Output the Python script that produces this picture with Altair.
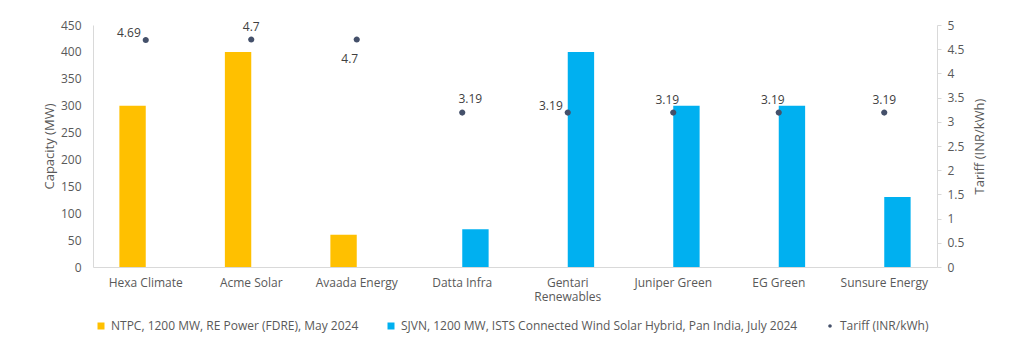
import altair as alt
import pandas as pd

companies = ["Hexa Climate", "Acme Solar", "Avaada Energy", "Datta Infra",
             "Gentari Renewables", "Juniper Green", "EG Green", "Sunsure Energy"]
ntpc_mw = [300, 400, 60, None, None, None, None, None]
sjvn_mw = [None, None, None, 70, 400, 300, 300, 130]
tariff = [4.69, 4.7, 4.7, 3.19, 3.19, 3.19, 3.19, 3.19]
label_pos = ["left", "above", "below", "above_r", "left", "above_l", "above_l", "above"]

s_ntpc = "NTPC, 1200 MW, RE Power (FDRE), May 2024"
s_sjvn = "SJVN, 1200 MW, ISTS Connected Wind Solar Hybrid, Pan India, July 2024"
s_tar = "Tariff (INR/kWh)"
series_dom = [s_ntpc, s_sjvn, s_tar]
series_col = ["#FFC000", "#00B0F0", "#44506A"]

rows = []
for c, a, b in zip(companies, ntpc_mw, sjvn_mw):
    if a is not None:
        rows.append({"company": c, "series": s_ntpc, "mw": a})
    if b is not None:
        rows.append({"company": c, "series": s_sjvn, "mw": b})
bars_df = pd.DataFrame(rows)
tar_df = pd.DataFrame({"company": companies, "tariff": tariff, "pos": label_pos,
                       "series": [s_tar] * len(companies)})

FONT = "Open Sans"
GREY = "#595959"
LINE = "#D9D9D9"

color_scale = alt.Scale(domain=series_dom, range=series_col)
x_enc = alt.X("company:N", sort=companies, title=None,
              scale=alt.Scale(paddingInner=0, paddingOuter=0),
              axis=alt.Axis(labelAngle=0, ticks=False, domainColor=LINE, labelPadding=10,
                            labelColor=GREY, labelFontSize=12, labelFont=FONT,
                            labelLineHeight=14,
                            labelExpr="datum.label == 'Gentari Renewables' ? ['Gentari', 'Renewables'] : datum.label"))

bars = alt.Chart(bars_df).mark_bar().encode(
    x=x_enc,
    xOffset=alt.XOffset("series:N", scale=alt.Scale(domain=[s_ntpc, s_sjvn], paddingInner=0, paddingOuter=1)),
    y=alt.Y("mw:Q", title="Capacity (MW)",
            scale=alt.Scale(domain=[0, 450], nice=False),
            axis=alt.Axis(values=list(range(0, 451, 50)), grid=False, ticks=False,
                          domainColor=LINE, labelColor=GREY, labelFontSize=12, labelFont=FONT,
                          labelPadding=12, titleColor=GREY, titleFontSize=13, titleFont=FONT,
                          titleFontWeight="normal", titlePadding=4)),
    color=alt.Color("series:N", scale=color_scale,
                    legend=alt.Legend(title=None, orient="none", direction="horizontal",
                                      legendX=2, legendY=295, columnPadding=26,
                                      labelFont=FONT, labelFontSize=12, labelColor=GREY,
                                      symbolSize=49, symbolStrokeWidth=0, labelLimit=500,
                                      labelOffset=4)),
)

tar_axis = alt.Axis(orient="right", values=[i / 2 for i in range(11)], format=".1~f",
                    grid=False, ticks=True, tickSize=4, tickColor=LINE, domainColor=LINE,
                    labelColor=GREY, labelFontSize=12, labelFont=FONT, labelPadding=6,
                    titleColor=GREY, titleFontSize=13, titleFont=FONT,
                    titleFontWeight="normal", titleAngle=270, titleBaseline="top",
                    titlePadding=10)
y_tar = alt.Y("tariff:Q", title=s_tar, scale=alt.Scale(domain=[0, 5], nice=False), axis=tar_axis)

dot_path = "M0.5,0A0.5,0.5 0 1,1 -0.5,0A0.5,0.5 0 1,1 0.5,0Z"
sq_path = "M-1,-1H1V1H-1Z"

points = alt.Chart(tar_df).mark_point(filled=True, size=150, opacity=1).encode(
    x=x_enc,
    y=y_tar,
    color=alt.Color("series:N", scale=color_scale),
    shape=alt.Shape("series:N", scale=alt.Scale(domain=series_dom,
                                                range=[sq_path, sq_path, dot_path])),
)

txt_kw = dict(font=FONT, fontSize=12, color="#404040", baseline="middle")
txt_enc = dict(x=x_enc, y=y_tar, text=alt.Text("tariff:Q", format="~g"))
t_left = alt.Chart(tar_df).transform_filter(alt.datum.pos == "left").mark_text(
    align="right", dx=-5, dy=-7, **txt_kw).encode(**txt_enc)
t_above = alt.Chart(tar_df).transform_filter(alt.datum.pos == "above").mark_text(
    align="center", dy=-13, **txt_kw).encode(**txt_enc)
t_above_l = alt.Chart(tar_df).transform_filter(alt.datum.pos == "above_l").mark_text(
    align="center", dx=-6, dy=-13, **txt_kw).encode(**txt_enc)
t_above_r = alt.Chart(tar_df).transform_filter(alt.datum.pos == "above_r").mark_text(
    align="center", dx=8, dy=-14, **txt_kw).encode(**txt_enc)
t_below = alt.Chart(tar_df).transform_filter(alt.datum.pos == "below").mark_text(
    align="center", dx=-7, dy=19, **txt_kw).encode(**txt_enc)

right = alt.layer(points, t_left, t_above, t_above_l, t_above_r, t_below)

chart = alt.layer(bars, right).resolve_scale(y="independent").properties(
    width=844, height=242,
    autosize=alt.AutoSizeParams(type="none"),
    padding={"left": 93, "top": 25, "right": 87, "bottom": 84},
    background="white",
).configure_view(stroke=None)

chart.save("out.html", embed_options={"renderer": "svg", "actions": False})
